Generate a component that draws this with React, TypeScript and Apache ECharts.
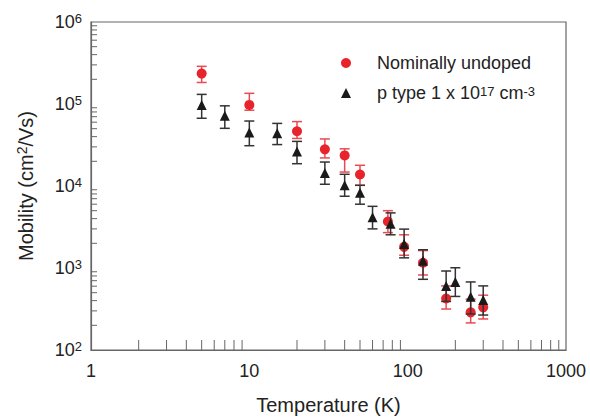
import React, { useEffect, useRef } from "react";
import * as echarts from "echarts";

// Nominally undoped (red circles)
const undopedT = [5, 10, 20, 30, 40, 50, 75, 95, 125, 175, 250, 300];
const undopedMu = [2.35e5, 9.75e4, 4.65e4, 2.8e4, 2.36e4, 1.38e4, 3.69e3, 1.81e3, 1.16e3, 425, 288, 331];
const undopedHi = [2.88e5, 1.35e5, 6.1e4, 3.75e4, 2.84e4, 1.79e4, 5.0e3, 2.54e3, 1.63e3, 605, 417, 466];
const undopedLo = [1.83e5, 8.4e4, 3.8e4, 2.2e4, 1.48e4, 1.02e4, 2.7e3, 1.43e3, 822, 316, 214, 239];

// p type 1 x 10^17 cm^-3 (black triangles)
const pT = [5, 7, 10, 15, 20, 30, 40, 50, 60, 78, 95, 125, 175, 200, 250, 300];
const pMu = [9.7e4, 7.2e4, 4.5e4, 4.4e4, 2.64e4, 1.44e4, 1.02e4, 8.3e3, 4.16e3, 3.46e3, 1.96e3, 1.23e3, 605, 676, 446, 406];
const pHi = [1.31e5, 9.5e4, 6.2e4, 5.8e4, 3.5e4, 1.96e4, 1.39e4, 1.02e4, 5.65e3, 4.7e3, 2.98e3, 1.67e3, 919, 1007, 676, 605];
const pLo = [6.7e4, 5.05e4, 3.1e4, 3.2e4, 1.87e4, 1.05e4, 7.5e3, 6.0e3, 3.0e3, 2.54e3, 1.33e3, 728, 391, 450, 275, 267];

// minor tick positions
const xMinorTicks = [2, 3, 4, 5, 6, 7, 8, 9, 20, 30, 40, 50, 60, 70, 80, 90, 200, 300, 400, 500, 600, 700, 800, 900];
const yMinorTicks = [
  200, 300, 400, 500, 600, 700, 800, 900,
  2000, 3000, 4000, 5000, 6000, 7000, 8000, 9000,
  20000, 30000, 40000, 50000, 60000, 70000, 80000, 90000,
  200000, 300000, 400000, 500000, 600000, 700000, 800000, 900000,
];

const RED = "#e8232b";
const RED_BAR = "#ea4a51";
const BLACK = "#1a1a1a";
const BLACK_BAR = "#333333";
const AXIS = "#666666";
const FONT = "'Liberation Sans', Arial, sans-serif";

function errorBarSeries(name: string, xs: number[], lo: number[], hi: number[], color: string, z: number) {
  return {
    type: "custom",
    name: name + "-err",
    silent: true,
    z,
    clip: false,
    data: xs.map((x, i) => [x, lo[i], hi[i]]),
    renderItem: (params: any, api: any) => {
      const x = api.value(0);
      const pLo = api.coord([x, api.value(1)]);
      const pHi = api.coord([x, api.value(2)]);
      const hw = 5;
      const style = { stroke: color, lineWidth: 1.5 };
      return {
        type: "group",
        children: [
          { type: "line", shape: { x1: pLo[0], y1: pLo[1], x2: pHi[0], y2: pHi[1] }, style },
          { type: "line", shape: { x1: pLo[0] - hw, y1: pLo[1], x2: pLo[0] + hw, y2: pLo[1] }, style },
          { type: "line", shape: { x1: pHi[0] - hw, y1: pHi[1], x2: pHi[0] + hw, y2: pHi[1] }, style },
        ],
      };
    },
  };
}

export default function App() {
  const ref = useRef<HTMLDivElement>(null);
  useEffect(() => {
    if (!ref.current) return;
    const chart = echarts.init(ref.current, null, { renderer: "svg" });
    const option: any = {
      animation: false,
      backgroundColor: "#ffffff",
      textStyle: { fontFamily: FONT },
      grid: {
        left: 91,
        right: 24,
        top: 22,
        bottom: 67,
        show: true,
        borderColor: AXIS,
        borderWidth: 1.2,
        backgroundColor: "transparent",
      },
      legend: {
        orient: "vertical",
        left: 336,
        top: 49,
        itemWidth: 10,
        itemHeight: 10,
        itemGap: 12,
        selectedMode: false,
        data: [
          { name: "Nominally undoped", icon: "circle", itemStyle: { color: RED, opacity: 1 } },
          { name: "p type", icon: "triangle", itemStyle: { color: BLACK, opacity: 1 } },
        ],
        formatter: (name: string) =>
          name === "p type" ? "{t|p type 1 x 10}{s|17}{t| cm}{s|-3}" : "{t|" + name + "}",
        textStyle: {
          rich: {
            t: { fontSize: 18, color: "#222", fontFamily: FONT, lineHeight: 16 },
            s: { fontSize: 13, color: "#222", fontFamily: FONT, verticalAlign: "top", lineHeight: 10 },
          },
          padding: [0, 0, 0, 21],
        },
      },
      xAxis: {
        type: "log",
        logBase: 10,
        min: 1,
        max: 1000,
        name: "Temperature (K)",
        nameLocation: "middle",
        nameGap: 45,
        nameTextStyle: { fontSize: 20, color: "#222", fontFamily: FONT },
        axisLine: { show: true, lineStyle: { color: AXIS, width: 1.2 } },
        axisTick: { show: false },
        splitLine: { show: false },
        axisLabel: {
          margin: 12,
          fontSize: 18,
          color: "#222",
          fontFamily: FONT,
          formatter: (v: number) => String(Math.round(v)),
        },
      },
      yAxis: {
        type: "log",
        logBase: 10,
        min: 100,
        max: 1e6,
        name: "{t|Mobility (cm}{s|2}{t|/Vs)}",
        nameLocation: "middle",
        nameGap: 54,
        nameRotate: 90,
        nameTextStyle: {
          rich: {
            t: { fontSize: 20, color: "#222", fontFamily: FONT, lineHeight: 22 },
            s: { fontSize: 14, color: "#222", fontFamily: FONT, verticalAlign: "top", lineHeight: 13 },
          },
        },
        axisLine: { show: true, lineStyle: { color: AXIS, width: 1.2 } },
        axisTick: { show: false },
        splitLine: { show: false },
        axisLabel: {
          margin: 9,
          formatter: (v: number) => "{b|10}{s|" + Math.round(Math.log10(v)) + "}",
          rich: {
            b: { fontSize: 18, color: "#222", fontFamily: FONT, lineHeight: 20 },
            s: { fontSize: 13, color: "#222", fontFamily: FONT, verticalAlign: "top", lineHeight: 12 },
          },
        },
      },
      series: [
        {
          type: "custom",
          name: "xticks",
          silent: true,
          z: 1,
          data: xMinorTicks.map((v) => [v, 100]),
          renderItem: (params: any, api: any) => {
            const p = api.coord([api.value(0), api.value(1)]);
            return {
              type: "line",
              shape: { x1: p[0], y1: p[1], x2: p[0], y2: p[1] - 10 },
              style: { stroke: AXIS, lineWidth: 1 },
            };
          },
        },
        {
          type: "custom",
          name: "yticks",
          silent: true,
          z: 1,
          data: yMinorTicks.map((v) => [1, v]),
          renderItem: (params: any, api: any) => {
            const p = api.coord([api.value(0), api.value(1)]);
            return {
              type: "line",
              shape: { x1: p[0], y1: p[1], x2: p[0] + 6, y2: p[1] },
              style: { stroke: AXIS, lineWidth: 1 },
            };
          },
        },
        errorBarSeries("Nominally undoped", undopedT, undopedLo, undopedHi, RED_BAR, 2),
        {
          type: "scatter",
          name: "Nominally undoped",
          symbol: "circle",
          symbolSize: 10,
          z: 3,
          itemStyle: { color: RED, opacity: 1 },
          data: undopedT.map((t, i) => [t, undopedMu[i]]),
        },
        errorBarSeries("p type", pT, pLo, pHi, BLACK_BAR, 4),
        {
          type: "scatter",
          name: "p type",
          symbol: "triangle",
          symbolSize: 10,
          z: 5,
          itemStyle: { color: BLACK, opacity: 1 },
          data: pT.map((t, i) => [t, pMu[i]]),
        },
      ],
    };
    chart.setOption(option);
    return () => chart.dispose();
  }, []);
  return <div ref={ref} style={{ width: 590, height: 420, position: "absolute", left: 0, top: 0 }} />;
}
